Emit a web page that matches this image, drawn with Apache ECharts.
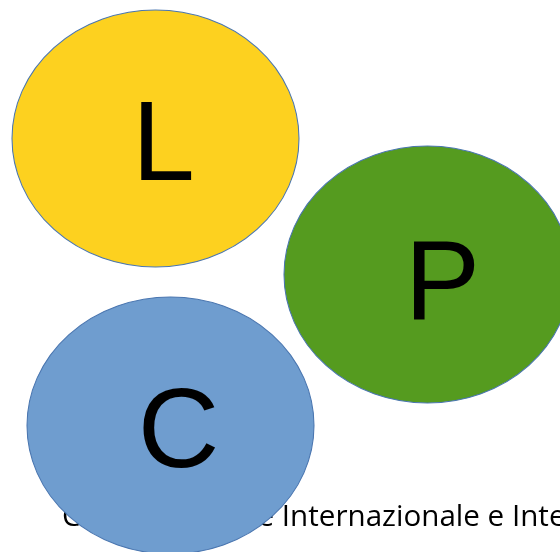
<!DOCTYPE html>
<html>
<head>
<meta charset="utf-8">
<script src="https://cdn.jsdelivr.net/npm/echarts@6/dist/echarts.min.js"></script>
<style>
  html, body { margin: 0; padding: 0; background: #fff; }
  #chart { width: 560px; height: 552px; }
</style>
</head>
<body>
<div id="chart"></div>
<script>
// cerchi L / P / C
const labels = ["L", "P", "C"];
const centerX = [155.5, 427.5, 170.5];
const centerY = [138.5, 274.5, 425.5];
const colors = ["#FDD11F", "#559B1F", "#6F9DCF"];
const caption = "Comunicazione Internazionale e Interculturale";

// ellisse come path, viene stirata su symbolSize
const ellipsePath = "path://M0,50 A50,50 0 1,1 100,50 A50,50 0 1,1 0,50 Z";
const labelOffsets = [[8, 10], [15, 13], [8, 10]];

const chart = echarts.init(document.getElementById("chart"));

const option = {
  animation: false,
  grid: { left: 0, right: 0, top: 0, bottom: 0 },
  xAxis: { type: "value", min: 0, max: 560, show: false },
  yAxis: { type: "value", min: 0, max: 552, inverse: true, show: false },
  graphic: [
    {
      type: "text",
      z: 0,
      zlevel: 0,
      x: 62,
      y: 503,
      style: {
        text: caption,
        font: '29.6px "Open Sans"',
        fill: "#000"
      }
    }
  ],
  series: [
    {
      type: "scatter",
      z: 10,
      symbol: ellipsePath,
      symbolSize: [287, 257],
      data: labels.map((name, i) => ({
        name: name,
        value: [centerX[i], centerY[i]],
        itemStyle: { color: colors[i] },
        label: { offset: labelOffsets[i] }
      })),
      itemStyle: {
        borderColor: "#4A76B0",
        borderWidth: 1,
        opacity: 1
      },
      label: {
        show: true,
        position: "inside",
        formatter: "{b}",
        fontSize: 113,
        fontFamily: "Liberation Sans",
        color: "#000"
      },
      emphasis: { disabled: true }
    }
  ]
};

chart.setOption(option);
</script>
</body>
</html>
